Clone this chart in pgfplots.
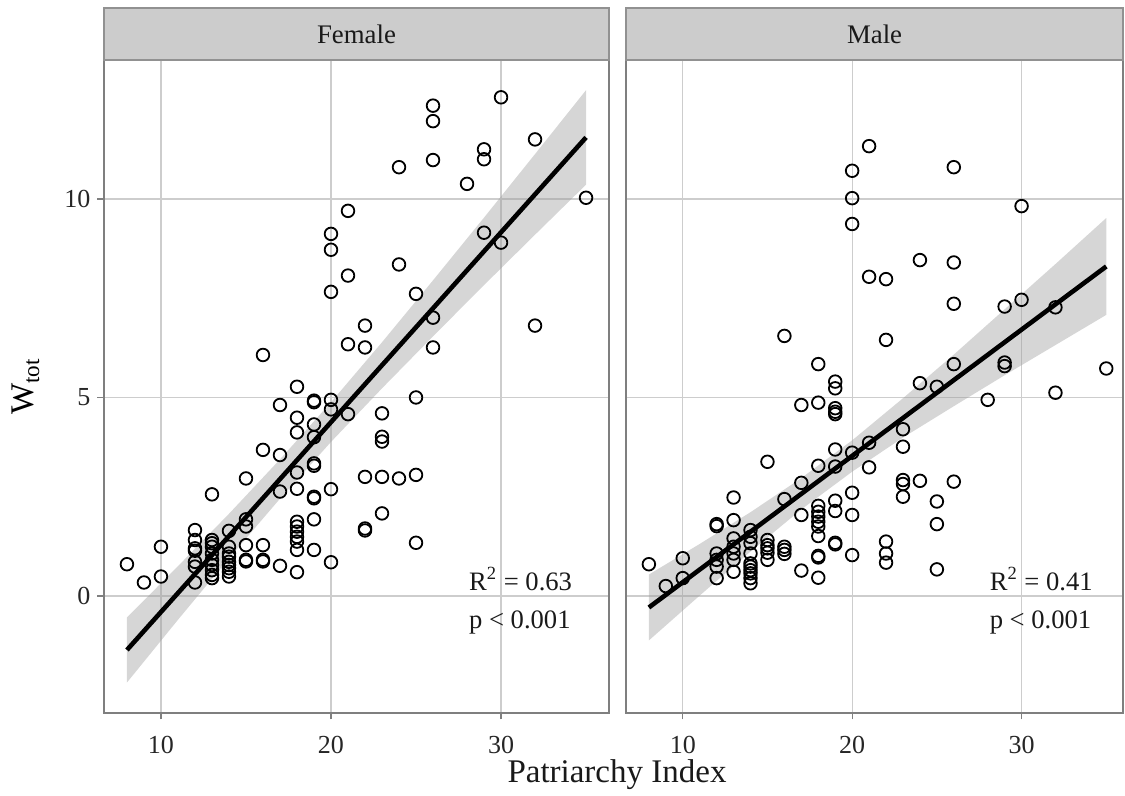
\documentclass[border=0pt]{standalone}
\usepackage{fontspec}
\setmainfont{Liberation Serif}
\usepackage{pgfplots}
\pgfplotsset{compat=1.18}
\usepackage{pgfplotstable}

\definecolor{gridc}{RGB}{205,205,205}
\definecolor{framec}{RGB}{127,127,127}
\definecolor{stripc}{RGB}{204,204,204}
\definecolor{stripb}{RGB}{145,145,145}
\definecolor{bandc}{RGB}{153,153,153}

\pgfplotstableread{
x y
8 0.80
9 0.34
10 1.24
10 0.49
12 1.66
12 1.41
12 1.20
12 1.14
12 0.86
12 0.74
12 0.34
13 2.56
13 1.41
13 1.33
13 1.24
13 1.07
13 0.91
13 0.78
13 0.65
13 0.53
13 0.45
14 1.64
14 1.24
14 1.07
14 0.99
14 0.86
14 0.78
14 0.70
14 0.61
14 0.49
15 2.96
15 1.93
15 1.75
15 1.28
15 0.91
15 0.87
16 6.07
16 3.68
16 1.28
16 0.91
16 0.87
17 4.81
17 3.55
17 2.63
17 0.76
18 5.27
18 4.49
18 4.12
18 3.11
18 2.70
18 1.87
18 1.75
18 1.62
18 1.49
18 1.37
18 1.16
18 0.60
19 4.92
19 4.88
19 4.32
19 4.00
19 3.34
19 3.28
19 2.50
19 2.46
19 1.93
19 1.16
20 9.12
20 8.72
20 7.66
20 4.94
20 4.70
20 2.69
20 0.85
21 9.70
21 8.07
21 6.34
21 4.58
22 6.81
22 6.26
22 3.00
22 1.70
22 1.65
23 4.60
23 4.01
23 3.89
23 3.00
23 2.08
24 10.80
24 8.35
24 2.96
25 7.61
25 5.00
25 3.05
25 1.34
26 12.35
26 11.96
26 10.98
26 7.01
26 6.26
28 10.38
29 11.25
29 11.00
29 9.15
30 12.56
30 8.90
32 11.50
32 6.81
35 10.03
}\femaledata

\pgfplotstableread{
x y
8 0.80
9 0.25
10 0.95
10 0.45
12 1.81
12 1.76
12 1.07
12 0.91
12 0.74
12 0.45
13 2.48
13 1.91
13 1.45
13 1.24
13 1.07
13 0.91
13 0.61
14 1.66
14 1.49
14 1.33
14 1.07
14 0.82
14 0.74
14 0.65
14 0.57
14 0.45
14 0.32
15 3.38
15 1.41
15 1.28
15 1.20
15 1.09
15 0.91
16 6.55
16 2.44
16 1.24
16 1.16
16 1.06
17 4.81
17 2.85
17 2.04
17 0.64
18 5.84
18 4.87
18 3.28
18 2.27
18 2.12
18 2.00
18 1.87
18 1.75
18 1.51
18 1.01
18 0.97
18 0.46
19 5.40
19 5.23
19 4.73
19 4.64
19 4.58
19 3.69
19 3.26
19 2.40
19 2.14
19 1.34
19 1.30
20 10.71
20 10.02
20 9.37
20 3.61
20 2.60
20 2.04
20 1.03
21 11.33
21 8.04
21 3.86
21 3.24
22 7.98
22 6.45
22 1.37
22 1.07
22 0.84
23 4.20
23 3.76
23 2.92
23 2.82
23 2.50
24 8.46
24 5.36
24 2.90
25 5.27
25 2.38
25 1.81
25 0.67
26 10.80
26 8.40
26 7.36
26 5.84
26 2.88
28 4.94
29 7.29
29 5.88
29 5.79
30 9.82
30 7.46
32 7.27
32 5.12
35 5.73
}\maledata

% fitted lines
\pgfplotstableread{
x y
8 -1.36
35 11.55
}\femalefit
\pgfplotstableread{
x y
8 -0.29
35 8.30
}\malefit

% 95% bands as polygons: upper edge left->right, lower edge right->left
\pgfplotstableread{
x y
8 -0.54
11 0.75
14 2.07
17 3.44
20 4.88
23 6.39
26 7.95
29 9.53
32 11.13
35 12.74
35 10.36
32 9.10
29 7.83
26 6.54
23 5.23
20 3.88
17 2.45
14 0.95
11 -0.60
8 -2.18
}\femaleband
\pgfplotstableread{
x y
8 0.54
11 1.31
14 2.11
17 2.97
20 3.92
23 4.98
26 6.08
29 7.22
32 8.36
35 9.52
35 7.08
32 6.32
29 5.56
26 4.78
23 3.99
20 3.13
17 2.18
14 1.12
11 0.01
8 -1.12
}\maleband

\pgfplotsset{
  panel/.style={
    scale only axis,
    height=326.35pt,
    ymin=-2.94, ymax=13.5,
    xmin=6.65,
    xtick={10,20,30}, ytick={0,5,10},
    xtick pos=bottom, ytick pos=left,
    tick align=outside,
    major tick length=3.3pt,
    grid=major,
    major grid style={draw=gridc, line width=0.55pt},
    axis line style={draw=framec, line width=1pt},
    tick style={draw=framec, line width=0.6pt},
    ticklabel style={font=\fontsize{13}{15}\selectfont, text=black!85},
    /pgf/number format/assume math mode=true,
    xticklabel style={yshift=-5pt},
    clip=true,
  },
  pts/.style={only marks, mark=o, mark size=3.15pt, mark options={draw=black, line width=0.9pt}},
  fitline/.style={black, line width=2.3pt, no marks},
  bandst/.style={fill=bandc, fill opacity=0.4, draw=none, no marks},
}
\tikzset{annot/.style={font=\fontsize{13.3}{16}\selectfont, text=black!90, anchor=base west, inner sep=0pt}}

\begin{document}
\begin{tikzpicture}
\path (0,0) rectangle (562.5pt,396pt);

% ---------- Female ----------
\begin{axis}[panel, name=fem,
  at={(52pt,39.65pt)}, anchor=south west,
  width=252.5pt, xmax=36.35,
  ylabel={W\textsubscript{tot}},
  ylabel style={at={(axis description cs:-0.155,0.5)}, anchor=center, font=\fontsize{16.5}{18}\selectfont},
]
\addplot[pts] table[x=x,y=y] {\femaledata};
\addplot[bandst] table[x=x,y=y] {\femaleband} -- cycle;
\addplot[fitline] table[x=x,y=y] {\femalefit};
\node[annot] at (axis cs:28.1,0.15) {R\textsuperscript{2} = 0.63};
\node[annot] at (axis cs:28.1,-0.81) {p < 0.001};
\end{axis}
\draw[fill=stripc, draw=stripb, line width=0.8pt] (fem.north west) rectangle ([yshift=26pt]fem.north east);
\node[font=\fontsize{13.4}{16}\selectfont, text=black!90] at ([yshift=13pt]fem.north) {Female};

% ---------- Male ----------
\begin{axis}[panel, name=mal,
  at={(313pt,39.65pt)}, anchor=south west,
  width=248.6pt, xmax=36.0,
  yticklabels={}, ytick style={draw=none},
]
\addplot[pts] table[x=x,y=y] {\maledata};
\addplot[bandst] table[x=x,y=y] {\maleband} -- cycle;
\addplot[fitline] table[x=x,y=y] {\malefit};
\node[annot] at (axis cs:28.1,0.15) {R\textsuperscript{2} = 0.41};
\node[annot] at (axis cs:28.1,-0.81) {p < 0.001};
\end{axis}
\draw[fill=stripc, draw=stripb, line width=0.8pt] (mal.north west) rectangle ([yshift=26pt]mal.north east);
\node[font=\fontsize{13.4}{16}\selectfont, text=black!90] at ([yshift=13pt]mal.north) {Male};

\node[anchor=base, font=\fontsize{16.5}{18}\selectfont, text=black!90] at (308.5pt,5pt) {Patriarchy Index};
\end{tikzpicture}
\end{document}
